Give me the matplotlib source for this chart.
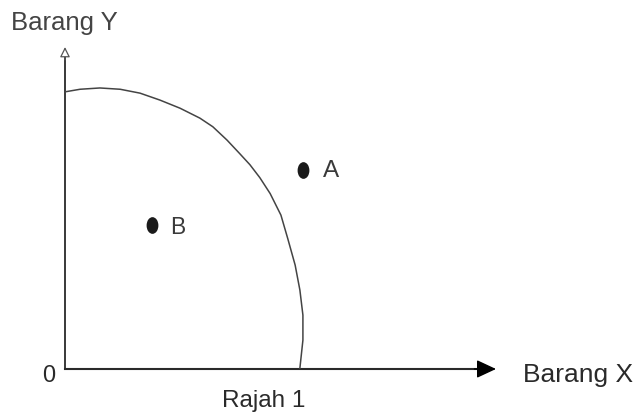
import matplotlib
matplotlib.use("Agg")
import matplotlib.pyplot as plt
from matplotlib.path import Path
from matplotlib.transforms import Affine2D

plt.rcParams['font.family'] = ['Liberation Sans', 'DejaVu Sans']

# Production possibility curve (in axis units)
curve_x = [0.00, 0.35, 0.81, 1.28, 1.74, 2.20, 2.67, 3.13, 3.43, 3.76, 4.06,
           4.29, 4.52, 4.76, 5.01, 5.17, 5.34, 5.45, 5.52, 5.52, 5.45]
curve_y = [6.43, 6.49, 6.52, 6.49, 6.40, 6.24, 6.05, 5.82, 5.62, 5.31, 4.99,
           4.74, 4.44, 4.07, 3.57, 3.02, 2.41, 1.83, 1.25, 0.67, 0.02]

point_names = ["A", "B"]
point_x = [5.53, 2.02]
point_y = [4.62, 3.33]

x_label = "Barang X"
y_label = "Barang Y"
caption = "Rajah 1"
origin_label = "0"
x_axis_end = 10.0
y_axis_end = 7.47

fig = plt.figure(figsize=(6.35, 4.17), dpi=100)
ax = fig.add_axes([0, 0, 1, 1])
ax.set_xlim(-1.508, 13.225)
ax.set_ylim(-1.114, 8.561)
ax.axis('off')

ink = '#2a2a2a'

# axes
ax.plot([0, 0], [0, y_axis_end - 0.1], color=ink, lw=1.3)
ax.annotate('', xy=(0, y_axis_end), xytext=(0, y_axis_end - 0.3),
            arrowprops=dict(arrowstyle='-|>,head_length=0.5,head_width=0.25',
                            color='#555555', fc='white', lw=0.9, mutation_scale=12,
                            shrinkA=0, shrinkB=0))
ax.plot([0, x_axis_end - 0.2], [0, 0], color=ink, lw=1.5)
ax.annotate('', xy=(x_axis_end, 0), xytext=(x_axis_end - 0.5, 0),
            arrowprops=dict(arrowstyle='-|>,head_length=0.6,head_width=0.28',
                            color='black', lw=1.0, mutation_scale=20,
                            shrinkA=0, shrinkB=0))

# curve
ax.plot(curve_x, curve_y, color='#444444', lw=1.1, solid_joinstyle='round')

# points
ell = Path.unit_circle().transformed(Affine2D().scale(0.68, 1.0))
label_dx = [0.46, 0.41]
label_dy = [-0.16, -0.19]
label_size = [17.5, 16.5]
for name, px, py, dx, dy, fs in zip(point_names, point_x, point_y, label_dx, label_dy, label_size):
    ax.plot(px, py, marker=ell, markersize=11, color='#1a1a1a', linestyle='none')
    ax.text(px + dx, py + dy, name, fontsize=fs, color='#3a3a3a', ha='left', va='baseline')

# labels
ax.text(-0.37, -0.30, origin_label, fontsize=17, color=ink, ha='center', va='baseline')
ax.text(10.62, -0.295, x_label, fontsize=19, color=ink, ha='left', va='baseline')
ax.text(-1.25, 7.865, y_label, fontsize=18.5, color='#444444', ha='left', va='baseline')
ax.text(4.61, -0.875, caption, fontsize=17.5, color=ink, ha='center', va='baseline')

fig.savefig("out.png", dpi=100)
